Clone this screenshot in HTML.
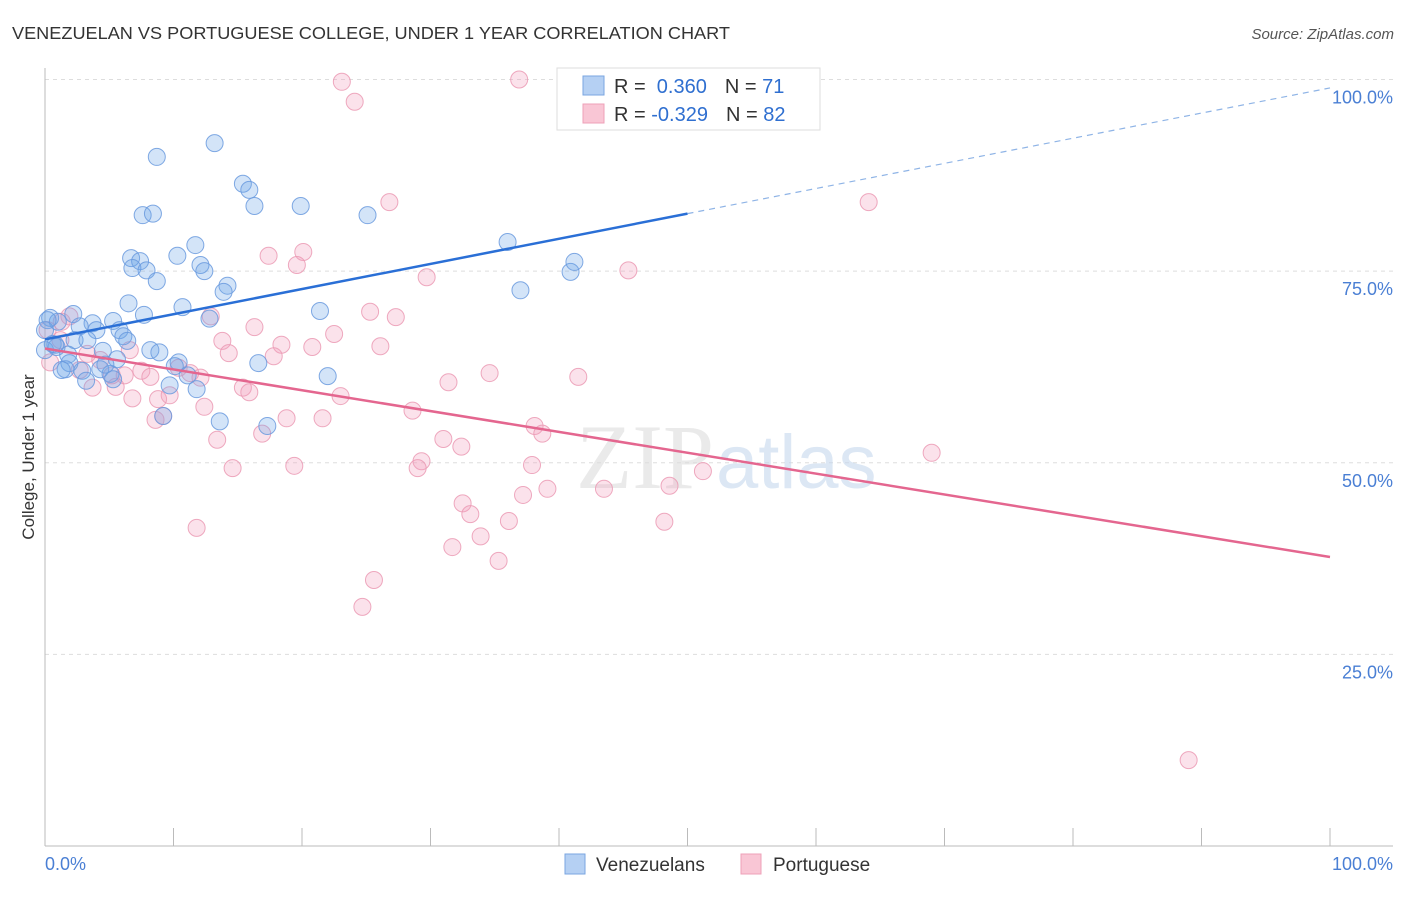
<!DOCTYPE html>
<html><head><meta charset="utf-8"><style>
body{margin:0;background:#fff;font-family:"Liberation Sans",sans-serif}
</style></head><body>
<svg width="1406" height="892" xmlns="http://www.w3.org/2000/svg" font-family="Liberation Sans, sans-serif">
<text x="12" y="39" font-size="17.5" fill="#333" textLength="718" lengthAdjust="spacingAndGlyphs">VENEZUELAN VS PORTUGUESE COLLEGE, UNDER 1 YEAR CORRELATION CHART</text>
<text x="1394" y="39" font-size="15" fill="#555" font-style="italic" text-anchor="end">Source: ZipAtlas.com</text>
<g id="grid"></g>
<text x="714" y="488" font-size="92" font-family="Liberation Serif, serif" fill="#ddd" opacity="0.6" text-anchor="end">ZIP</text>
<text x="716" y="488" font-size="76" fill="#c5d8ee" opacity="0.6">atlas</text>
<g id="axes"></g>
<g id="pts"></g>
<g id="lines"></g>
<text transform="translate(34,457) rotate(-90)" font-size="17" fill="#333" text-anchor="middle">College, Under 1 year</text>
<text x="45" y="870" font-size="18" fill="#4a7fd4">0.0%</text>
<text x="1393" y="870" font-size="18" fill="#4a7fd4" text-anchor="end">100.0%</text>
<g>
<rect x="557" y="68" width="263" height="62" fill="#fff" stroke="#ddd"/>
<rect x="583" y="76" width="21" height="19" fill="#b5d0f3" stroke="#7aa6e0"/>
<rect x="583" y="104" width="21" height="19" fill="#f9c6d5" stroke="#eea0b8"/>
<text x="614" y="93" font-size="20" fill="#333">R = <tspan fill="#2f6fd0">&#160;0.360</tspan><tspan dx="18">N = </tspan><tspan fill="#2f6fd0">71</tspan></text>
<text x="614" y="121" font-size="20" fill="#333">R = <tspan fill="#2f6fd0">-0.329</tspan><tspan dx="18">N = </tspan><tspan fill="#2f6fd0">82</tspan></text>
</g>
<g>
<rect x="565" y="854" width="20" height="20" fill="#b5d0f3" stroke="#7aa6e0"/>
<text x="596" y="871" font-size="19" fill="#333">Venezuelans</text>
<rect x="741" y="854" width="20" height="20" fill="#f9c6d5" stroke="#eea0b8"/>
<text x="773" y="871" font-size="19" fill="#333">Portuguese</text>
</g>
</svg>
<script>
const yTicks=[25,50,75,100];
const yTickLabels=["25.0%","50.0%","75.0%","100.0%"];
const xTicks=[10,20,30,40,50,60,70,80,90,100];
const blueX=[13.2,8.7,15.4,15.9,16.3,19.9,25.1,7.6,8.4,36.0,11.7,10.3,6.7,7.4,6.8,7.9,12.1,12.4,8.7,40.9,41.2,37.0,14.2,13.9,6.5,10.7,7.7,12.8,21.4,2.2,0.4,1.0,3.7,5.3,2.7,5.8,4.0,6.1,2.3,6.4,3.3,0.6,0,0.9,8.2,8.9,4.5,1.8,5.6,16.6,10.4,1.9,1.6,2.9,4.3,5.1,11.1,3.2,5.3,22.0,9.7,11.8,9.2,13.6,17.3,0.2,0.8,1.3,4.7,10.1,0];
const blueY=[91.7,89.9,86.4,85.6,83.5,83.5,82.3,82.3,82.5,78.8,78.4,77.0,76.7,76.3,75.4,75.1,75.8,75.0,73.7,74.9,76.2,72.5,73.1,72.3,70.8,70.3,69.3,68.8,69.8,69.4,68.9,68.4,68.2,68.5,67.8,67.3,67.3,66.5,66.0,65.9,66.0,65.5,64.7,65.1,64.7,64.4,64.6,64.1,63.5,63.0,63.1,63.0,62.2,62.0,62.2,61.6,61.4,60.7,60.9,61.3,60.1,59.6,56.1,55.4,54.8,68.6,65.4,62.1,62.8,62.6,67.3];
const pinkX=[23.1,36.9,24.1,26.8,64.1,20.1,17.4,19.6,29.7,45.4,1.9,12.9,25.3,27.3,1.3,16.3,22.5,13.8,18.4,20.8,26.1,14.3,17.8,3.3,10.4,7.5,11.3,34.6,41.5,31.4,6.2,5.2,8.2,3.7,5.5,15.4,15.9,23.0,6.8,8.8,28.6,12.4,18.8,21.6,9.2,38.1,38.7,13.4,16.9,31.0,32.4,69.0,29.3,29.0,37.9,19.4,14.6,51.2,48.6,39.1,37.2,43.5,32.5,33.1,36.1,48.2,11.8,33.9,31.7,35.3,25.6,24.7,89.0,0.4,1.2,4.3,6.6,9.7,0.2,2.7,8.6,12.1];
const pinkY=[99.7,100.0,97.1,84.0,84.0,77.5,77.0,75.8,74.2,75.1,69.1,69.1,69.7,69.0,68.4,67.7,66.8,65.9,65.4,65.1,65.2,64.3,63.9,64.2,62.4,62.0,61.7,61.7,61.2,60.5,61.4,61.4,61.2,59.8,59.9,59.8,59.2,58.7,58.4,58.3,56.8,57.3,55.8,55.8,56.1,54.8,53.8,53.0,53.8,53.1,52.1,51.3,50.2,49.3,49.7,49.6,49.3,48.9,47.0,46.6,45.8,46.6,44.7,43.3,42.4,42.3,41.5,40.4,39.0,37.2,34.7,31.2,11.2,63.1,66.0,63.4,64.7,58.8,67.3,62.1,55.6,61.1];
const blueTrend=[66.1,98.9];
const pinkTrend=[64.9,37.7];
const NS='http://www.w3.org/2000/svg';
const sx=v=>45+v*12.85, sy=v=>846-v*7.665;
function mk(tag,attrs,parent){const e=document.createElementNS(NS,tag);for(const k in attrs)e.setAttribute(k,attrs[k]);parent.appendChild(e);return e;}
const grid=document.getElementById('grid'),axes=document.getElementById('axes'),pts=document.getElementById('pts'),lines=document.getElementById('lines');
yTicks.forEach((t,i)=>{
 const l=mk('line',{x1:45,x2:1393,y1:sy(t),y2:sy(t),stroke:'#ddd','stroke-dasharray':'4,4'},grid);
 
 
 const tx=mk('text',{x:1393,y:sy(t)+24,'font-size':18,fill:'#4a7fd4','text-anchor':'end'},grid);
 tx.textContent=yTickLabels[i];
 
 
});
let a=mk('line',{x1:45,x2:45,y1:68,y2:846,stroke:'#bbb'},axes);


a=mk('line',{x1:45,x2:1393,y1:846,y2:846,stroke:'#bbb'},axes);


xTicks.forEach(t=>{
 const l=mk('line',{x1:sx(t),x2:sx(t),y1:828,y2:846,stroke:'#bbb'},axes);
 
 
});
function dots(X,Y,fill,stroke,name){X.forEach((x,i)=>{
 const c=mk('circle',{cx:sx(x),cy:sy(Y[i]),r:8.5,fill:fill,stroke:stroke,'stroke-width':1,'stroke-opacity':0.85},pts);
 
 
});}
dots(pinkX,pinkY,'rgba(243,160,188,0.3)','#eb9ab4','portuguese-point');
dots(blueX,blueY,'rgba(110,165,232,0.3)','#6a9ade','venezuelan-point');
let ln=mk('line',{x1:sx(0),y1:sy(blueTrend[0]),x2:sx(50),y2:sy(blueTrend[0]+(blueTrend[1]-blueTrend[0])*0.5),stroke:'#2a6fd6','stroke-width':2.5},lines);


ln=mk('line',{x1:sx(50),y1:sy(blueTrend[0]+(blueTrend[1]-blueTrend[0])*0.5),x2:sx(100),y2:sy(blueTrend[1]),stroke:'#8fb4e6','stroke-width':1.2,'stroke-dasharray':'6,5'},lines);


ln=mk('line',{x1:sx(0),y1:sy(pinkTrend[0]),x2:sx(100),y2:sy(pinkTrend[1]),stroke:'#e4668f','stroke-width':2.5},lines);


</script>
</body></html>
